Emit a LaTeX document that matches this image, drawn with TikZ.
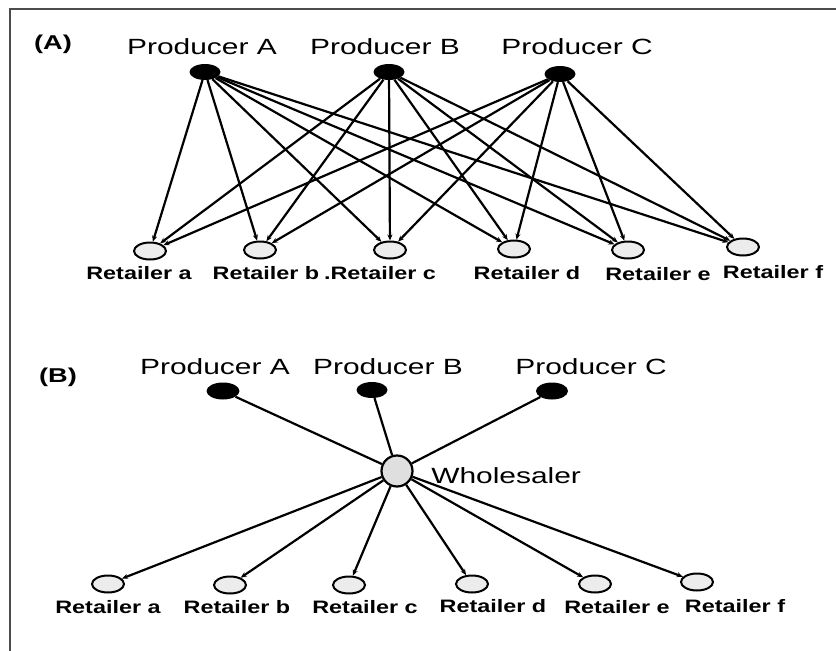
\documentclass[tikz,border=0pt]{standalone}
\usepackage{fontspec}
\setmainfont{Liberation Sans}
\usetikzlibrary{arrows.meta,shapes.geometric}
\begin{document}
\begin{tikzpicture}[x=1pt,y=-1pt,
  producer/.style={ellipse,fill=black,minimum width=31pt,minimum height=16pt,inner sep=0pt},
  retailer/.style={ellipse,draw=black,line width=2pt,fill=gray!15,minimum width=32pt,minimum height=17pt,inner sep=0pt},
  hub/.style={circle,draw=black,line width=2.2pt,fill=gray!25,minimum size=31pt,inner sep=0pt},
  plabel/.style={font=\fontsize{22}{24}\selectfont,xscale=1.36,inner sep=0pt},
  rlabel/.style={font=\bfseries\fontsize{18}{20}\selectfont,xscale=1.3,inner sep=0pt},
  tag/.style={font=\bfseries\fontsize{20}{22}\selectfont,xscale=1.36,inner sep=0pt},
  link/.style={line width=2.2pt,-{Stealth[length=6pt,width=5pt]}},
  shortlink/.style={line width=2.2pt}
]
\useasboundingbox (0,0) rectangle (836,651);
\fill[white] (0,0) rectangle (836,651);
% frame along the top and left edges
\draw[line width=2.5pt,black!70] (10,651) -- (10,9) -- (836,9);

% ---------- (A) direct links ----------
\node[tag] (tagA) at (53,44) {(A)};
\node[plabel] (lpA) at (202,47) {Producer A};
\node[plabel] (lpB) at (385,47) {Producer B};
\node[plabel] (lpC) at (577,47) {Producer C};
\node[producer] (pA) at (205,72) {};
\node[producer] (pB) at (389,72) {};
\node[producer] (pC) at (560,74) {};

\node[retailer] (ra) at (150,251) {};
\node[retailer] (rb) at (260,250) {};
\node[retailer] (rc) at (390,250) {};
\node[retailer] (rd) at (514,249) {};
\node[retailer] (re) at (628,250) {};
\node[retailer] (rf) at (743,247) {};

\node[rlabel] (lra) at (139,273) {Retailer a};
\node[rlabel] (lrb) at (266,273) {Retailer b};
\node[rlabel] (lrc) at (380,273) {.Retailer c};
\node[rlabel] (lrd) at (527,273) {Retailer d};
\node[rlabel] (lre) at (658,274) {Retailer e};
\node[rlabel] (lrf) at (773,272) {Retailer f};

\foreach \p in {pA,pB,pC}
  \foreach \r in {ra,rb,rc,rd,re,rf}
    \draw[link] (\p) -- (\r);

% ---------- (B) through a wholesaler ----------
\node[tag] (tagB) at (58,377) {(B)};
\node[plabel] (lqA) at (215,367) {Producer A};
\node[plabel] (lqB) at (388,367) {Producer B};
\node[plabel] (lqC) at (591,367) {Producer C};
\node[producer,minimum width=33pt,minimum height=17pt] (qA) at (223,391) {};
\node[producer,minimum width=31pt,minimum height=16pt] (qB) at (372,390) {};
\node[producer,minimum width=32pt,minimum height=17pt] (qC) at (552,391) {};

\node[hub] (w) at (397,471) {};
\node[plabel,anchor=west] (lw) at (431,476) {Wholesaler};

\node[retailer] (sa) at (108,584) {};
\node[retailer] (sb) at (230,585) {};
\node[retailer] (sc) at (349,585) {};
\node[retailer] (sd) at (472,584) {};
\node[retailer] (se) at (595,584) {};
\node[retailer] (sf) at (697,582) {};

\node[rlabel] (lsa) at (108,607) {Retailer a};
\node[rlabel] (lsb) at (237,607) {Retailer b};
\node[rlabel] (lsc) at (365,607) {Retailer c};
\node[rlabel] (lsd) at (493,606) {Retailer d};
\node[rlabel] (lse) at (617,607) {Retailer e};
\node[rlabel] (lsf) at (735,606) {Retailer f};

\foreach \p in {qA,qB,qC}
  \draw[shortlink] (\p) -- (w);
\foreach \r in {sa,sb,sc,sd,se,sf}
  \draw[link] (w) -- (\r);
\end{tikzpicture}
\end{document}
